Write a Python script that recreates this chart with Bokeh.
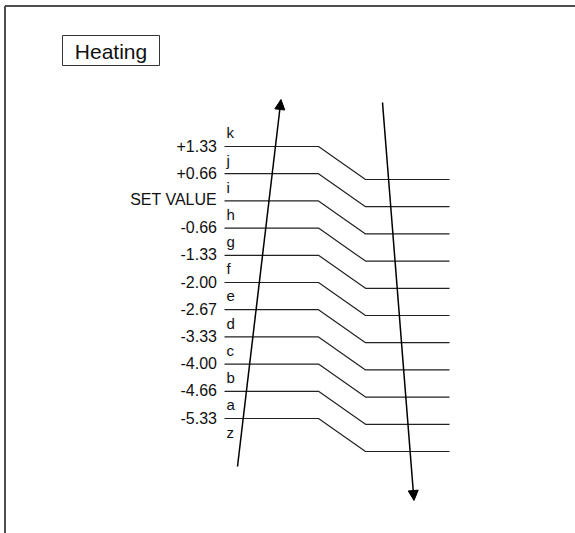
from bokeh.plotting import figure
from bokeh.models import Range1d, ColumnDataSource, Arrow, NormalHead
from bokeh.core.properties import value
from bokeh.embed import file_html
from bokeh.resources import INLINE

# ---- data ----
title_text = "Heating"
level_labels = ["+1.33", "+0.66", "SET VALUE", "-0.66", "-1.33", "-2.00",
                "-2.67", "-3.33", "-4.00", "-4.66", "-5.33"]
band_letters = ["k", "j", "i", "h", "g", "f", "e", "d", "c", "b", "a", "z"]

# ---- layout constants (page-pixel coordinates) ----
TOP_Y = 146.0
STEP = 27.2
X_LEFT, X_BEND1, X_BEND2, X_RIGHT = 224, 318, 365, 449
DROP = 33
FONT = "Liberation Sans"

PX0, PY0, PW, PH = 3, 4, 572, 529
p = figure(width=PW, height=PH, output_backend="svg", toolbar_location=None,
           x_range=Range1d(PX0, PX0 + PW), y_range=Range1d(PY0 + PH, PY0),
           min_border=0, margin=(PY0, 0, 0, PX0))
p.axis.visible = False
p.xaxis.visible = False
p.yaxis.visible = False
p.grid.visible = False
p.outline_line_color = None
p.background_fill_color = "white"
p.border_fill_color = "white"

# outer frame (left and top edges visible)
p.segment(x0=[4.5, 4.5], y0=[5.5, 5.5], x1=[4.5, 600], y1=[600, 5.5],
          line_color="#4d4d4d", line_width=2)

# title box
p.quad(left=[62], right=[159], top=[35], bottom=[65], fill_color="white",
       line_color="#333333", line_width=1)
p.text(x=[110.5], y=[50.5], text=[title_text], text_font=value(FONT),
       text_font_size="21px", text_align="center", text_baseline="middle",
       text_color="#111111")

# level lines
ys = [TOP_Y + i * STEP for i in range(len(level_labels))]
xs_lines = [[X_LEFT, X_BEND1, X_BEND2, X_RIGHT] for _ in ys]
ys_lines = [[y, y, y + DROP, y + DROP] for y in ys]
p.multi_line(xs=xs_lines, ys=ys_lines, line_color="#222222", line_width=1.2)

# value labels
src = ColumnDataSource(dict(x=[216.5] * len(ys), y=[y - 1 for y in ys], t=level_labels))
p.text(x="x", y="y", text="t", source=src, text_font=value(FONT),
       text_font_size="16px", text_align="right", text_baseline="middle",
       text_color="#111111")

# band letters
ly = [TOP_Y + (i - 0.5) * STEP for i in range(len(band_letters))]
p.text(x=[226] * len(ly), y=ly, text=band_letters, text_font=value(FONT),
       text_font_size="15px", text_align="left", text_baseline="middle",
       text_color="#111111")

# arrows
for (xs0, ys0, xe, ye) in [(237, 466, 280.5, 99), (382, 102, 413.5, 500)]:
    p.add_layout(Arrow(x_start=xs0, y_start=ys0, x_end=xe, y_end=ye,
                       line_color="black", line_width=1.5,
                       end=NormalHead(size=10, fill_color="black",
                                      line_color="black", line_width=1)))

open("out.html", "w").write(file_html(p, INLINE))
